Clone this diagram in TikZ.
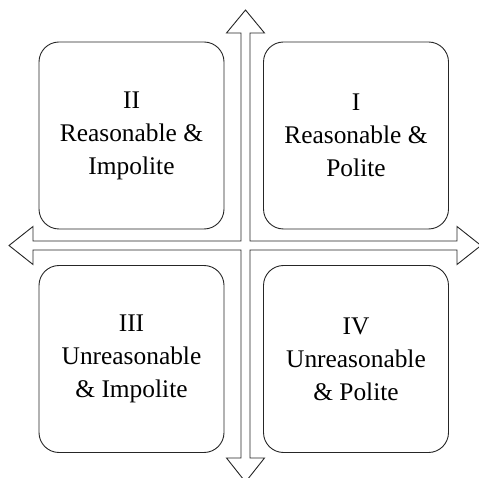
\documentclass[tikz,border=0pt]{standalone}
\usepackage{fontspec}
\setmainfont{Liberation Serif}
\usepackage{tikz}
\usepackage{xcolor}

\tikzset{
  quadrant/.style={draw=black!85, line width=.9pt, rounded corners=20pt,
    minimum width=185pt, minimum height=187pt, align=center,
    font=\fontsize{25.4}{33}\selectfont},
  axes/.style={draw=black!85, line width=.9pt, fill=white, line join=miter}
}

\begin{document}
\begin{tikzpicture}[x=1pt, y=-1pt]
  \useasboundingbox (0,0) rectangle (479,478);
  % the four quadrants
  \node (q2) [quadrant] at (131.5,135.5) {II\\Reasonable \&\\Impolite};
  \node (q1) [quadrant] at (356,135.5) {I\\Reasonable \&\\Polite};
  \node (q3) [quadrant] at (131.5,359) {III\\Unreasonable\\\& Impolite};
  \node (q4) [quadrant] at (356,359) {IV\\Unreasonable\\\& Polite};
  % cross of arrows
  \draw[axes] (9,245.5)
    -- (33,226.5) -- (33,241) -- (241,241) -- (241,33)
    -- (226.5,33) -- (245.5,10) -- (264.5,33) -- (250,33)
    -- (250,241) -- (457,241) -- (457,226.5) -- (481,245.5)
    -- (457,264.5) -- (457,250) -- (250,250) -- (250,458)
    -- (264.5,458) -- (245.5,482) -- (226.5,458) -- (241,458)
    -- (241,250) -- (33,250) -- (33,264.5) -- cycle;
\end{tikzpicture}
\end{document}
